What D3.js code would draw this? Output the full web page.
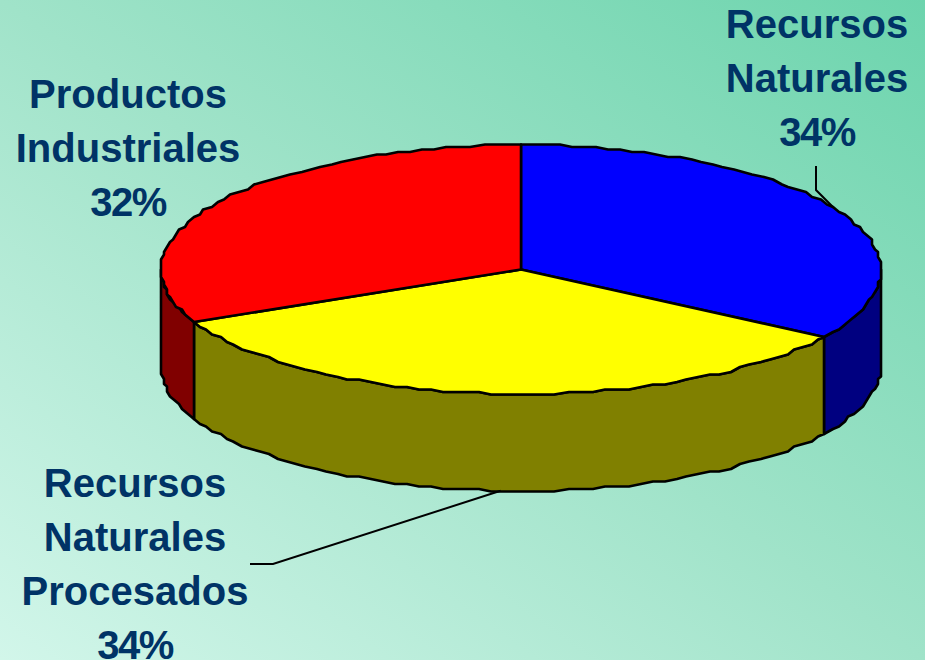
<!DOCTYPE html>
<html><head><meta charset="utf-8">
<script src="https://cdn.jsdelivr.net/npm/d3@7"></script>
<style>html,body{margin:0;padding:0;background:#a0e3c9;overflow:hidden}svg{display:block}</style>
</head><body><svg id="c" width="925" height="660"></svg>
<script>
const categories = ["Recursos Naturales", "Recursos Naturales Procesados", "Productos Industriales"];
const values = [34, 34, 32];
const topColors = ["#0000ff", "#ffff00", "#ff0000"];
const sideColors = ["#000080", "#808000", "#800000"];
const labelLines = [["Recursos","Naturales","34%"],["Recursos","Naturales","Procesados","34%"],["Productos","Industriales","32%"]];
const labelX = [817, 135, 128];
const labelY = [38, 497, 108];

const W = 925, H = 660, lineGap = 54;
const svg = d3.select("#c");
const defs = svg.append("defs");
const grad = defs.append("linearGradient").attr("id","bg")
  .attr("x1",0).attr("y1",1).attr("x2",1).attr("y2",0);
grad.append("stop").attr("offset",0).attr("stop-color","#d2f6ea");
grad.append("stop").attr("offset",0.5).attr("stop-color","#a0e3c9");
grad.append("stop").attr("offset",1).attr("stop-color","#6cd4ad");
svg.append("rect").attr("width",W).attr("height",H).attr("fill","url(#bg)");

const sx = d3.scaleLinear().domain([-1,1]).range([161,881]);
const sy = d3.scaleLinear().domain([-1,1]).range([145,394]);
const depth = 97;
const pie = d3.pie().sort(null).value(d=>d)(values);
const cx = sx(0), cy = sy(0);
const qx = 3, qy = 2.5;
const step = Math.PI/90;
function rimAngles(a0,a1){
  const n = Math.max(1,Math.round((a1-a0)/step));
  return d3.range(n+1).map(i=>a0+(a1-a0)*i/n);
}
function rim(a,dy){
  const x = sx(Math.sin(a)), y = sy(-Math.cos(a));
  return [Math.round((x-cx)/qx)*qx+cx, Math.round((y-cy)/qy)*qy+cy+dy];
}
const line = d3.line();
const lw = 2.6;

// side walls
pie.forEach((p,i)=>{
  const a0 = Math.max(p.startAngle, Math.PI/2), a1 = Math.min(p.endAngle, 3*Math.PI/2);
  if(a1<=a0) return;
  const as = rimAngles(a0,a1);
  const upper = as.map(a=>rim(a,0));
  const lower = as.slice().reverse().map(a=>rim(a,depth));
  svg.append("path").attr("d",line(upper.concat(lower))+"Z")
    .attr("fill",sideColors[i]).attr("stroke","#000").attr("stroke-width",lw).attr("stroke-linejoin","round");
});
// top slices
pie.forEach((p,i)=>{
  const as = rimAngles(p.startAngle,p.endAngle);
  const pts = [[cx,cy]].concat(as.map(a=>rim(a,0)));
  svg.append("path").attr("d",line(pts)+"Z")
    .attr("fill",topColors[i]).attr("stroke","#000").attr("stroke-width",lw).attr("stroke-linejoin","round");
});

// leader lines
const leaderAngles = [0.335*Math.PI, 1.018*Math.PI];
svg.append("path").attr("d",line([[816,166],[816,190],[sx(Math.sin(leaderAngles[0])),sy(-Math.cos(leaderAngles[0]))]]))
  .attr("fill","none").attr("stroke","#000").attr("stroke-width",2);
svg.append("path").attr("d",line([[250,564],[273,564],[sx(Math.sin(leaderAngles[1])),sy(-Math.cos(leaderAngles[1]))+depth]]))
  .attr("fill","none").attr("stroke","#000").attr("stroke-width",2);

// labels
labelLines.forEach((ls,i)=>{
  ls.forEach((t,j)=>{
    svg.append("text").attr("x",labelX[i]).attr("y",labelY[i]+j*lineGap)
      .attr("text-anchor","middle")
      .attr("font-family","'Liberation Sans',Arial,sans-serif").attr("font-weight","bold")
      .attr("font-size",40).attr("letter-spacing",t.endsWith("%")?-1.5:0)
      .attr("fill","#003366").text(t);
  });
});
</script></body></html>
